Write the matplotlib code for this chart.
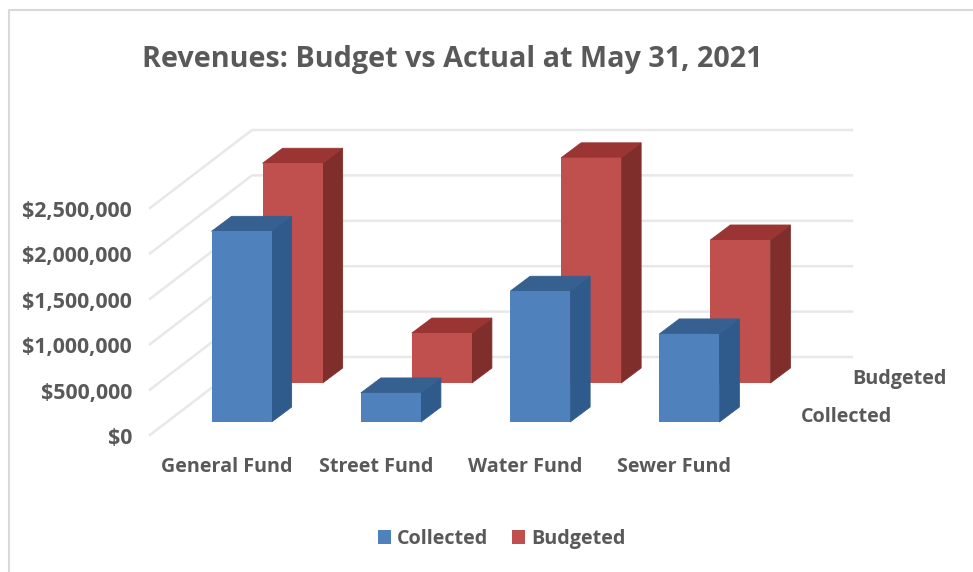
import matplotlib
matplotlib.use("Agg")
import matplotlib.pyplot as plt
from matplotlib.patches import Polygon, Rectangle
from matplotlib.ticker import FuncFormatter
from matplotlib.transforms import ScaledTranslation

plt.rcParams['font.family'] = ['Open Sans', 'DejaVu Sans']

# ---- data ----
categories = ["General Fund", "Street Fund", "Water Fund", "Sewer Fund"]
collected = [2100000, 320000, 1440000, 970000]
budgeted = [2420000, 550000, 2480000, 1575000]
yticks = [0, 500000, 1000000, 1500000, 2000000, 2500000]
title = "Revenues: Budget vs Actual at May 31, 2021"

# ---- style ----
W, H = 973, 572
TXT = "#595959"
GRID = "#e8e8e8"
C_BLUE = ("#4f81bd", "#2f5a8c", "#35608f")   # front, side, top
C_RED = ("#c0504d", "#7f2e2c", "#9a3533")
PX_X = 597 / 4        # px per category
PX_Y = 227 / 2500000  # px per dollar
DEPTH_X, DEPTH_Y = 102 / PX_X, 78 / PX_Y   # full floor depth in data units
WALL_END = 3.5 + DEPTH_X + 3 / PX_X
BAR_W = 60 / PX_X
BAR_DX, BAR_DY = 20 / PX_X, 15 / PX_Y
FS = 14.2

fig = plt.figure(figsize=(W / 100, H / 100), dpi=100, facecolor="white")
ax = fig.add_axes([150 / W, 1 - 435 / H, 597 / W, 227 / H])
ax.set_xlim(-0.5, 3.5)
ax.set_ylim(0, 2500000)
ax.patch.set_alpha(0)
for s in ax.spines.values():
    s.set_visible(False)
ax.set_xticks(range(4), categories)
ax.set_yticks(yticks)
ax.yaxis.set_major_formatter(FuncFormatter(lambda v, _: f"${v:,.0f}"))
ax.tick_params(length=0, labelcolor=TXT)
ax.tick_params(axis="y", pad=13, labelsize=15.4)
ax.tick_params(axis="x", pad=16, labelsize=FS)
for lab in ax.get_yticklabels():
    lab.set_fontweight("bold")
    lab.set_transform(lab.get_transform() + ScaledTranslation(0, -1 / 100, fig.dpi_scale_trans))
for lab in ax.get_xticklabels():
    lab.set_fontweight("bold")
    lab.set_transform(lab.get_transform() + ScaledTranslation(2 / 100, 0, fig.dpi_scale_trans))

# walls: side-wall diagonals and back-wall lines, extending one step above the top tick
for v in yticks:
    ax.plot([-0.5, -0.5 + DEPTH_X, WALL_END], [v, v + DEPTH_Y, v + DEPTH_Y],
            color=GRID, lw=1.8, clip_on=False, zorder=1)


def bar3d(i, value, frac, colors, z):
    x0 = i - BAR_W / 2 + frac * DEPTH_X
    y0 = frac * DEPTH_Y
    x1, y1 = x0 + BAR_W, y0 + value
    r = ax.bar(x0, value, width=BAR_W, bottom=y0, align="edge", color=colors[0],
               zorder=z + 0.2, clip_on=False)
    ax.add_patch(Polygon([(x1, y0), (x1 + BAR_DX, y0 + BAR_DY), (x1 + BAR_DX, y1 + BAR_DY), (x1, y1)],
                         closed=True, fc=colors[1], ec=colors[1], lw=0.6, zorder=z, clip_on=False))
    ax.add_patch(Polygon([(x0, y1), (x0 + BAR_DX, y1 + BAR_DY), (x1 + BAR_DX, y1 + BAR_DY), (x1, y1)],
                         closed=True, fc=colors[2], ec=colors[2], lw=0.6, zorder=z, clip_on=False))
    return r


for i, v in enumerate(budgeted):
    bar3d(i, v, 2 / 3, C_RED, 3)
for i, v in enumerate(collected):
    bar3d(i, v, 1 / 6, C_BLUE, 4)

fig.text(452 / W, 1 - 59 / H, title, ha="center", va="center", fontsize=20.7,
         fontweight="bold", color=TXT)
fig.text(846 / W, 1 - 417 / H, "Collected", ha="center", va="center", fontsize=FS,
         fontweight="bold", color=TXT)
fig.text(899 / W, 1 - 379 / H, "Budgeted", ha="center", va="center", fontsize=FS,
         fontweight="bold", color=TXT)

handles = [Rectangle((0, 0), 1, 1, fc=C_BLUE[0]), Rectangle((0, 0), 1, 1, fc=C_RED[0])]
fig.legend(handles, ["Collected", "Budgeted"], loc="center", bbox_to_anchor=(502 / W, 1 - 539 / H),
           ncol=2, frameon=False, handlelength=0.66, handleheight=0.66, handletextpad=0.3,
           columnspacing=1.2, prop={"size": FS, "weight": "bold"}, labelcolor=TXT)

# chart frame
fig.add_artist(plt.Line2D([8.5 / W, 8.5 / W, 1.0], [0, 1 - 9.5 / H, 1 - 9.5 / H],
                          color="#d9d9d9", lw=1.5))

fig.savefig("out.png", dpi=100)
